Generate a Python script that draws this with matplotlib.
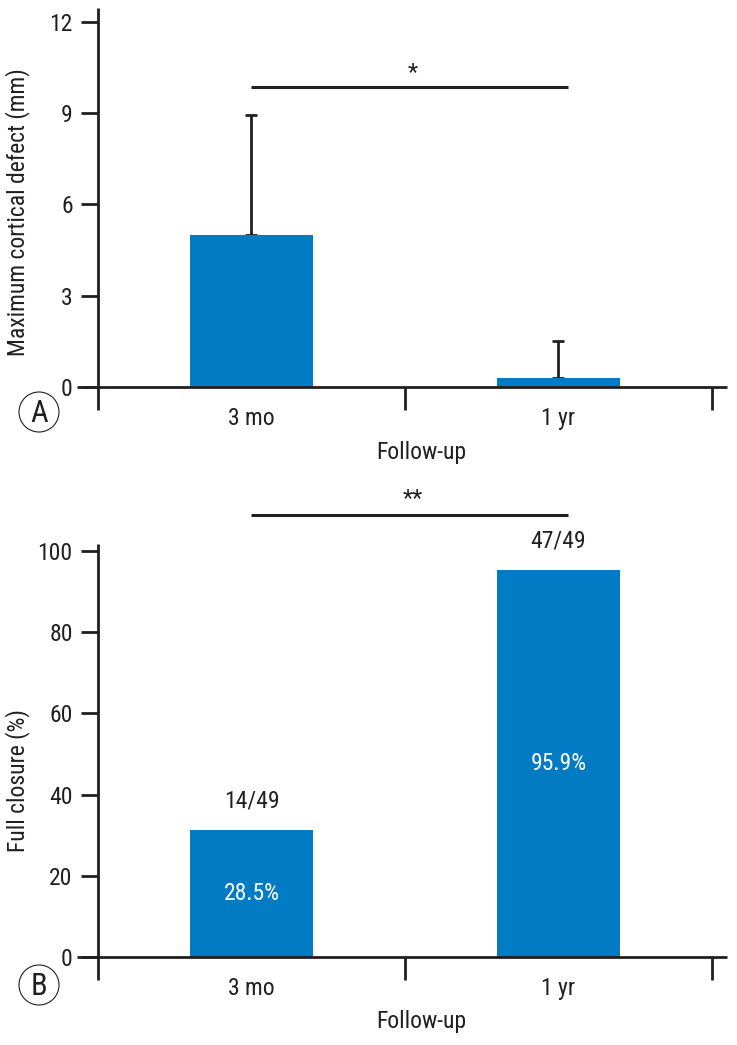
import matplotlib
matplotlib.use('Agg')
import matplotlib.pyplot as plt
from matplotlib import font_manager as fm
from matplotlib.patches import Ellipse

_names = {f.name for f in fm.fontManager.ttflist}
if 'Roboto Condensed' in _names:
    FAM, FS = 'Roboto Condensed', 17
elif 'Liberation Sans Narrow' in _names:
    FAM, FS = 'Liberation Sans Narrow', 16.5
else:
    FAM, FS = 'Roboto', 15.5
plt.rcParams['font.family'] = [FAM, 'DejaVu Sans']
plt.rcParams['font.weight'] = 'normal'

# ---------------- data ----------------
categories = ['3 mo', '1 yr']
defect_mean = [5.0, 0.29]          # mm
defect_sd = [3.95, 1.22]           # upper error only
closure_pct = [31.3, 95.3]         # %
closure_counts = ['14/49', '47/49']
closure_labels = ['28.5%', '95.9%']
yticks_A = [0, 3, 6, 9, 12]
yticks_B = [0, 20, 40, 60, 80, 100]
sig_text_A = '*'
sig_text_B = '**'
sig_level_A = 9.86
sig_level_B = 108.9
xlabel = 'Follow-up'
ylabel_A = 'Maximum cortical defect (mm)'
ylabel_B = 'Full closure (%)'

BLUE = '#027BC4'
INK = '#231F20'
W, H = 737, 1045

fig = plt.figure(figsize=(W / 100, H / 100), dpi=100)


def px_axes(x0, y_top, x1, y_bottom):
    return fig.add_axes([x0 / W, 1 - y_bottom / H, (x1 - x0) / W, (y_bottom - y_top) / H])


axA = px_axes(77, 8, 727, 410)
axB = px_axes(77, 544, 727, 980)

xpos = [0.5, 1.5]
bar_w = 0.4
sig_x = [0.5, 1.53]


def style(ax, ylim, yticks):
    ax.set_xlim(-0.0684, 2.049)
    ax.set_ylim(*ylim)
    for s in ['top', 'right']:
        ax.spines[s].set_visible(False)
    ax.spines['left'].set_position(('data', 0))
    ax.spines['bottom'].set_position(('data', 0))
    for s in ['left', 'bottom']:
        ax.spines[s].set_color(INK)
        ax.spines[s].set_linewidth(2.0)
        ax.spines[s].set_capstyle('butt')
        ax.spines[s].set_zorder(3)
    ax.set_yticks(yticks)
    ax.tick_params(axis='y', direction='out', length=12.2, width=2, color=INK,
                   pad=6, labelsize=FS, labelcolor=INK)
    ax.set_xticks([1, 2])
    ax.set_xticklabels(['', ''])
    ax.tick_params(axis='x', which='major', direction='out', length=16.5, width=2, color=INK)
    ax.set_xticks(xpos, minor=True)
    ax.set_xticklabels(categories, minor=True)
    ax.tick_params(axis='x', which='minor', length=0, pad=14.5, labelsize=FS, labelcolor=INK)
    ax.patch.set_visible(False)
    ax.annotate(xlabel, xy=(1, 0), xycoords='data', xytext=(16, -65),
                textcoords='offset pixels', ha='center', va='center',
                fontsize=FS, color=INK, annotation_clip=False)


style(axA, (-0.756, 12.46), yticks_A)
style(axB, (-5.67, 101.7), yticks_B)

# ---------- panel A ----------
axA.bar(xpos, defect_mean, width=bar_w, color=BLUE, zorder=2)
axA.errorbar(xpos, defect_mean, yerr=[[0] * len(defect_sd), defect_sd], fmt='none',
             ecolor=INK, elinewidth=2, capsize=4.3, capthick=2, zorder=1.5)
axA.plot(sig_x, [sig_level_A] * 2, color=INK, lw=2.2, solid_capstyle='butt', clip_on=False)
axA.annotate(sig_text_A, xy=(sum(sig_x) / 2, sig_level_A), xytext=(3, 8),
             textcoords='offset pixels', ha='center', va='baseline',
             fontsize=17, color=INK, annotation_clip=False)

# ---------- panel B ----------
axB.bar(xpos, closure_pct, width=bar_w, color=BLUE, zorder=2)
for x, v, cnt, lab in zip(xpos, closure_pct, closure_counts, closure_labels):
    axB.annotate(cnt, xy=(x, v), xytext=(0, 29), textcoords='offset pixels',
                 ha='center', va='center', fontsize=FS, color=INK, annotation_clip=False)
    axB.text(x, v / 2, lab, ha='center', va='center', fontsize=FS, color='white', zorder=4)
axB.plot(sig_x, [sig_level_B] * 2, color=INK, lw=2.2, solid_capstyle='butt', clip_on=False)
axB.annotate(sig_text_B, xy=(sum(sig_x) / 2, sig_level_B), xytext=(3, 10),
             textcoords='offset pixels', ha='center', va='baseline',
             fontsize=17, color=INK, annotation_clip=False)

# ---------- y labels ----------
fig.text(18 / W, 1 - 212 / H, ylabel_A, rotation=90, ha='center', va='center',
         fontsize=FS, color=INK)
fig.text(18 / W, 1 - 781 / H, ylabel_B, rotation=90, ha='center', va='center',
         fontsize=FS, color=INK)

# ---------- panel letters ----------
for letter, cy, base in [('A', 412, 422), ('B', 985, 995)]:
    fig.patches.append(Ellipse((39 / W, 1 - cy / H), 40 / W, 40 / H, transform=fig.transFigure,
                               fill=False, ec=INK, lw=0.8))
    fig.text(39 / W, 1 - base / H, letter, ha='center', va='baseline', fontsize=22, color=INK)

fig.savefig('out.png', dpi=100)
